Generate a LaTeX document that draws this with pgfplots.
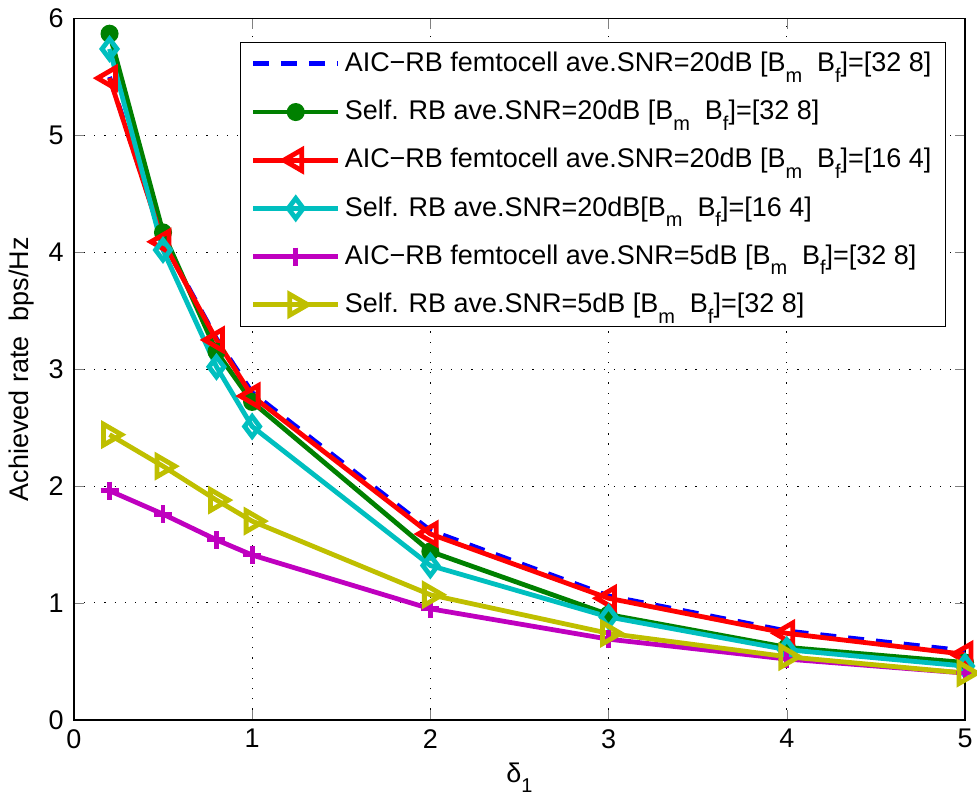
\documentclass[border=0pt]{standalone}
\usepackage{pgfplots}
\pgfplotsset{compat=1.18}
\usepackage{fontspec}
\setmainfont{Liberation Sans}
\definecolor{mgreen}{rgb}{0,0.5,0}
\definecolor{mcyan}{rgb}{0,0.75,0.75}
\definecolor{mmag}{rgb}{0.75,0,0.75}
\definecolor{myel}{rgb}{0.75,0.75,0}
\newcommand{\sub}[1]{\raisebox{-0.75ex}{\fontsize{10}{10}\selectfont #1}}
\newcommand{\BB}{[B\sub{m}\ \ B\sub{f}]}
\begin{document}
\fontsize{13.5}{16}\selectfont
\begin{tikzpicture}
\begin{axis}[
    scale only axis,
    width=446pt, height=351pt,
    xmin=0, xmax=5, ymin=0, ymax=6,
    xtick={0,1,2,3,4,5}, ytick={0,1,2,3,4,5,6},
    tick align=inside,
    major tick length=5pt,
    xmajorgrids, ymajorgrids,
    grid style={black, line width=0.5pt, dash pattern=on 0.6pt off 4.5pt},
    axis line style={line width=0.7pt},
    /pgf/number format/assume math mode=true,
    ticklabel style={font=\fontsize{13.5}{16}\selectfont},
    xticklabel style={inner xsep=0pt},
    yticklabel style={xshift=-0.5pt},
    xlabel={δ\sub{1}},
    ylabel={Achieved rate\ \ bps/Hz},
    label style={font=\fontsize{13.5}{16}\selectfont},
    xlabel style={yshift=2pt},
    ylabel style={yshift=-2pt},
    every axis plot/.append style={line width=2.4pt},
    legend cell align=left,
    legend style={at={(1,1)}, anchor=north east, xshift=-9.5pt, yshift=-11.5pt,
        draw=black, line width=0.6pt, font=\fontsize{13.5}{16}\selectfont,
        row sep=8.3pt, inner xsep=5pt, inner ysep=3pt},
    legend image code/.code={
        \draw[mark repeat=2, mark phase=2, #1]
            plot coordinates {(0cm,0cm) (0.75cm,0cm) (1.5cm,0cm)};
    },
]
\addplot[blue, dash pattern=on 8pt off 6pt] coordinates {
(0.2,5.50) (0.5,4.10) (0.8,3.26) (1,2.80) (2,1.62) (3,1.06) (4,0.76) (5,0.59)};
\addlegendentry{AIC−RB femtocell ave.SNR=20dB \BB=[32 8]}
\addplot[mgreen, mark=*, mark size=3.3pt, mark options={solid}] coordinates {
(0.2,5.87) (0.5,4.17) (0.8,3.15) (1,2.72) (2,1.44) (3,0.90) (4,0.62) (5,0.49)};
\addlegendentry{Self. RB ave.SNR=20dB \BB=[32 8]}
\addplot[red, mark=triangle, mark size=6pt, mark options={solid, rotate=90}] coordinates {
(0.2,5.49) (0.5,4.09) (0.8,3.25) (1,2.77) (2,1.59) (3,1.04) (4,0.74) (5,0.56)};
\addlegendentry{AIC−RB femtocell ave.SNR=20dB \BB=[16 4]}
\addplot[mcyan, mark=diamond, mark size=5pt, mark options={solid}] coordinates {
(0.2,5.74) (0.5,4.02) (0.8,3.02) (1,2.51) (2,1.32) (3,0.88) (4,0.60) (5,0.46)};
\addlegendentry{Self. RB ave.SNR=20dB\BB=[16 4]}
\addplot[mmag, mark=+, mark size=4.5pt, mark options={solid}] coordinates {
(0.2,1.96) (0.5,1.76) (0.8,1.54) (1,1.41) (2,0.95) (3,0.69) (4,0.52) (5,0.40)};
\addlegendentry{AIC−RB femtocell ave.SNR=5dB \BB=[32 8]}
\addplot[myel, mark=triangle, mark size=6pt, mark options={solid, rotate=-90}] coordinates {
(0.2,2.44) (0.5,2.17) (0.8,1.88) (1,1.70) (2,1.07) (3,0.74) (4,0.54) (5,0.40)};
\addlegendentry{Self. RB ave.SNR=5dB \BB=[32 8]}
\end{axis}
\end{tikzpicture}
\end{document}
